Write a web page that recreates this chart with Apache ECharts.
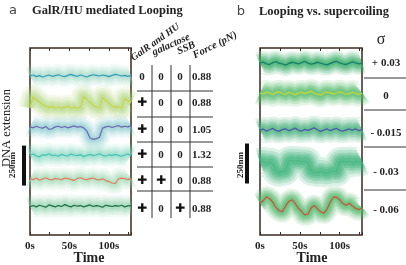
<!DOCTYPE html>
<html><head><meta charset="utf-8">
<script src="https://cdn.jsdelivr.net/npm/echarts@6/dist/echarts.min.js"></script>
<style>html,body{margin:0;padding:0;background:#fff}#c{width:406px;height:265px}</style>
</head><body><div id="c"></div>
<script>
// time axis (s)
const time = [0,4,8,12,16,20,24,28,32,36,40,44,48,52,56,60,64,68,72,76,80,84,88,92,96,100,104,108,112,116,120,124,128];
const xTicks = ['0s','50s','100s'];
// Panel a: DNA extension traces (nm, relative offset)
const a1 = [994,1000,990,996,988,994,1000,992,996,1002,994,990,998,1004,996,992,1000,994,988,996,1002,998,994,1000,996,990,998,1004,1000,994,998,992,996];
const a2 = [796,862,846,830,814,804,796,804,794,800,792,798,804,794,798,792,800,866,848,828,810,800,794,860,842,824,806,798,802,794,854,840,828];
const a3 = [676,670,680,672,668,678,660,664,676,680,672,678,670,676,682,674,678,670,650,606,598,602,610,668,676,680,672,678,684,674,680,676,682];
const a4 = [500,506,494,488,502,498,508,496,500,492,504,498,494,506,500,496,502,490,498,504,496,500,508,498,494,502,496,504,498,492,500,506,498];
const a5 = [352,346,356,342,350,358,348,344,354,350,346,356,352,348,340,354,358,350,346,352,356,348,344,352,340,334,325,322,350,356,352,346,354];
const a6 = [178,184,176,186,180,174,188,182,176,184,178,190,182,176,186,180,184,176,182,188,178,184,180,174,186,182,178,184,180,186,176,182,184];
// Panel b: traces at different supercoiling
const b1 = [1075,1081,1070,1066,1078,1084,1074,1070,1062,1072,1080,1076,1070,1078,1086,1074,1068,1072,1080,1074,1068,1064,1072,1080,1086,1076,1070,1066,1074,1082,1076,1070,1074];
const b2 = [888,882,894,886,878,890,896,884,880,892,886,876,888,894,884,890,898,886,880,874,888,894,890,882,886,896,888,880,884,892,886,878,888];
const b3 = [656,662,650,658,666,654,648,660,664,652,658,668,656,650,660,654,662,670,658,648,656,664,652,660,666,654,650,658,662,656,664,652,658];
const b4 = [456,460,450,456,444,404,392,396,402,462,468,460,466,458,464,454,402,394,390,398,392,388,396,402,394,458,462,456,464,452,460,456,462];
const b5 = [200,215,238,228,205,172,152,146,180,210,220,198,168,148,126,130,168,184,164,146,136,160,205,236,236,220,198,186,198,182,166,158,170];
// Table (panel a)
const galrHU   = ['0','✚','✚','✚','✚','✚'];
const galactose= ['0','0','0','0','✚','0'];
const ssb      = ['0','0','0','0','0','✚'];
const force    = ['0.88','0.88','1.05','1.32','0.88','0.88'];
const headers  = ['GalR and HU','galactose','SSB','Force (pN)'];
// Panel b sigma labels
const sigmaLabels = ['+ 0.03','0','- 0.015','- 0.03','- 0.06'];

const pairs = v => v.map((y,i)=>[time[i], y]);
const serif = 'Liberation Serif';
const box = '#3a2a22';

// band = scatter cloud around the trace, drawn as soft layered strokes
function trace(g, vals, lineColor, rgb, a, w, lineW){
  const c = al => 'rgba('+rgb+','+al+')';
  const layers = [[w*2.4, a*0.18],[w*1.9, a*0.22],[w*1.4, a*0.28],[w*1.0, a*0.34],[w*0.6, a*0.4]];
  const out = layers.map(([lw,al]) => ({type:'line', xAxisIndex:g*2, yAxisIndex:g, data:pairs(vals), symbol:'none', smooth:0.4, silent:true,
     lineStyle:{color:c(al), width:lw, cap:'butt', join:'round', shadowBlur:3, shadowColor:c(al)}, z:2}));
  out.push({type:'line', xAxisIndex:g*2, yAxisIndex:g, data:pairs(vals), symbol:'none', silent:true,
     lineStyle:{color:lineColor, width:lineW}, z:3});
  return out;
}
function xAx(g, pos){
  return {gridIndex:g, type:'value', min:0, max:128, interval:25, position:pos,
    axisLine:{show:false}, splitLine:{show:false},
    axisTick:{show:true, inside:true, length:3, lineStyle:{color:box, width:1}},
    axisLabel: pos==='bottom' ? {show:true, margin:6, fontFamily:serif, fontWeight:'bold', fontSize:11, color:'#222',
       formatter: v => (v%50===0 ? xTicks[v/50] : '')} : {show:false}};
}

const chart = echarts.init(document.getElementById('c'), null, {renderer:'canvas'});
const series = [].concat(
  trace(0,a1,'#2b9cb8','150,215,190',0.55,9,1.2),
  trace(0,a2,'#c9d346','175,215,120',0.65,10,1.2),
  trace(0,a3,'#6f64b4','120,195,200',0.55,9,1.2),
  trace(0,a4,'#3dc4b4','130,215,190',0.6,9,1.2),
  trace(0,a5,'#e07a5a','150,215,170',0.55,9,1.2),
  trace(0,a6,'#1c6b45','130,205,160',0.55,9,1.2),
  trace(1,b1,'#16806c','60,175,105',0.85,9,1.4),
  trace(1,b2,'#c8d830','80,185,105',0.8,10,1.2),
  trace(1,b3,'#4e58a8','70,178,125',0.8,10,1.3),
  trace(1,b4,'rgba(40,160,110,0.35)','60,178,120',0.85,12,1),
  trace(1,b5,'#c4583c','80,182,105',0.8,9,1.3)
);

const g = [];
const T = (text,x,y,o)=>g.push({type:'text', x, y, style:Object.assign({text, fill:'#222', font:'bold 11px '+serif, textAlign:'center', textVerticalAlign:'middle'}, o||{})});
const L = (x1,y1,x2,y2)=>g.push({type:'line', shape:{x1,y1,x2,y2}, style:{stroke:'#333', lineWidth:1}});
// titles
T('a',13,11,{font:'13px "DejaVu Sans"', fill:'#444'});
T('GalR/HU mediated Looping',32,11,{font:'bold 12.5px '+serif, textAlign:'left'});
T('b',241,12,{font:'13px "DejaVu Sans"', fill:'#444'});
T('Looping vs. supercoiling',259,12,{font:'bold 12.5px '+serif, textAlign:'left'});
// y titles
g.push({type:'text', x:7, y:128, rotation:Math.PI/2, style:{text:'DNA extension', fill:'#222', font:'12.5px '+serif, textAlign:'center', textVerticalAlign:'middle'}});
g.push({type:'text', x:13, y:165, rotation:Math.PI/2, style:{text:'250nm', fill:'#222', font:'bold 9px '+serif, textAlign:'center', textVerticalAlign:'middle'}});
g.push({type:'text', x:241, y:165, rotation:Math.PI/2, style:{text:'250nm', fill:'#222', font:'bold 9px '+serif, textAlign:'center', textVerticalAlign:'middle'}});
// Time labels
T('Time',89,258,{font:'bold 14px '+serif});
T('Time',312,258,{font:'bold 14px '+serif});
// table a
const rowY = [77,103,130,155,181,209];
const colX = [142,161,180];
rowY.forEach((y,i)=>{
  [galrHU[i],galactose[i],ssb[i]].forEach((s,j)=>{
    if (s==='✚') T(s,colX[j],y,{font:'bold 12px "DejaVu Sans"', fill:'#111'});
    else T(s,colX[j],y,{font:'bold 11px '+serif});
  });
  T(force[i],192,y,{textAlign:'left'});
});
[152,171,190].forEach(x=>L(x,65,x,218));
[91,117,142,167,191].forEach(y=>L(137,y,213,y));
const hdr = [[135,63,0.62,10],[155,58,0.42,10.5],[180,57,0.42,10.5],[196,61,0.47,10.5]];
headers.forEach((h,i)=>g.push({type:'text', x:hdr[i][0], y:hdr[i][1], rotation:hdr[i][2],
  style:{text:h, fill:'#222', font:'italic bold '+hdr[i][3]+'px '+serif, textAlign:'left', textVerticalAlign:'bottom'}}));
// sigma
T('σ',381,40,{font:'16px '+serif});
const sigY = [63,96,133,172,210];
sigmaLabels.forEach((s,i)=>T(s,386,sigY[i]));
[78,110,147,190].forEach(y=>L(364,y,406,y));

chart.setOption({
  animation:false,
  backgroundColor:'#fff',
  grid:[
    {left:30, top:48, width:101, height:187, show:true, borderColor:box, borderWidth:1.5, backgroundColor:'#fff'},
    {left:260, top:48, width:102, height:187, show:true, borderColor:box, borderWidth:1.5, backgroundColor:'#fff'}
  ],
  xAxis:[xAx(0,'bottom'), xAx(0,'top'), xAx(1,'bottom'), xAx(1,'top')],
  yAxis:[
    {gridIndex:0, type:'value', min:0, max:1169, show:false},
    {gridIndex:1, type:'value', min:0, max:1169, show:false}
  ],
  series: series,
  graphic: g
});
// scale bars (250 nm) placed through the y scale
function bar(gi, x, nm0){
  const p0 = chart.convertToPixel({gridIndex:gi}, [0, nm0]);
  const p1 = chart.convertToPixel({gridIndex:gi}, [0, nm0+250]);
  return {type:'rect', shape:{x:x, y:p1[1], width:4, height:p0[1]-p1[1]}, style:{fill:'#111'}};
}
chart.setOption({graphic: g.concat([bar(0,22,309), bar(1,245,322)])});
</script></body></html>
